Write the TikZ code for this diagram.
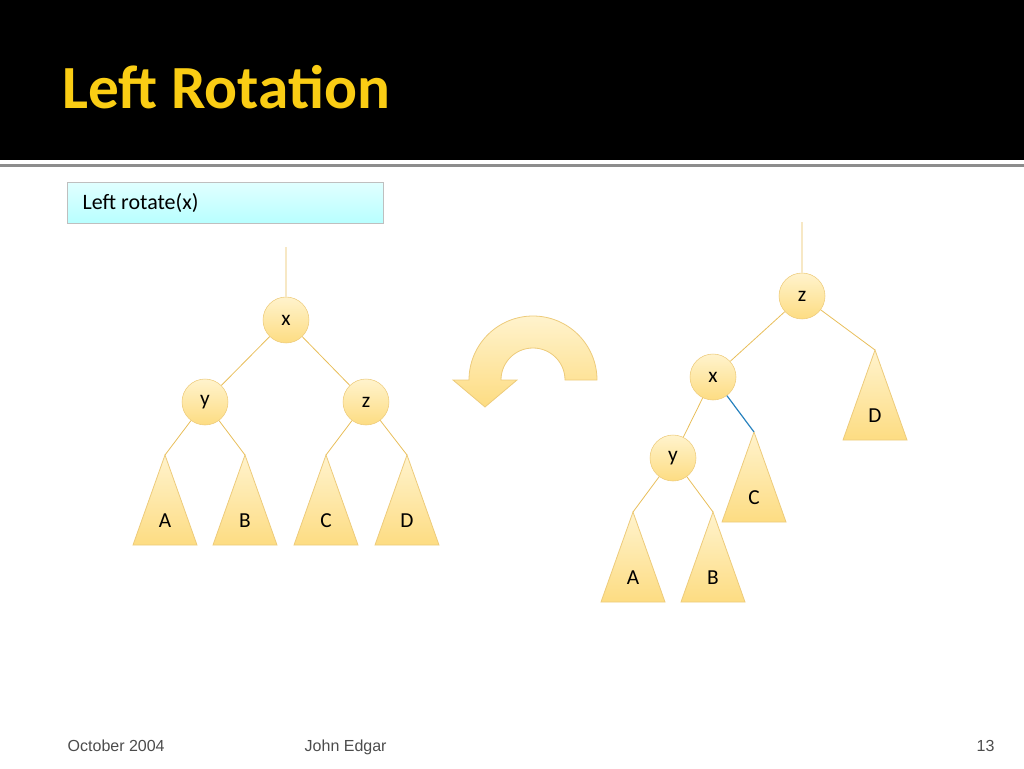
\documentclass[tikz,border=0pt]{standalone}
\usepackage{fontspec}
\setmainfont{Carlito}
\newfontfamily\footfont{Liberation Sans}
\definecolor{gold}{RGB}{232,190,90}
\definecolor{tfill}{RGB}{253,220,130}
\definecolor{tfilltop}{RGB}{255,243,205}
\definecolor{ttl}{RGB}{250,205,20}
\begin{document}
\begin{tikzpicture}[x=0.75pt,y=-0.75pt,
 nd/.style={circle,minimum size=34.5pt,inner sep=0pt,draw=gold!80,top color=tfilltop,bottom color=tfill,font=\fontsize{16}{16}\selectfont},
 edge/.style={draw=gold,line width=0.6pt},
 tri/.style={draw=gold!80,top color=tfilltop,bottom color=tfill,line width=0.6pt},
 lbl/.style={font=\fontsize{16}{16}\selectfont},
 foot/.style={font=\footfont\fontsize{12}{12}\selectfont,text=black!70,anchor=base west}]
\useasboundingbox (0,0) rectangle (1024,768);
\fill[black] (0,0) rectangle (1024,160);
\fill[black!45] (0,164) rectangle (1024,167);
\node[anchor=base west,inner sep=0pt,text=ttl,font=\bfseries\fontsize{46}{46}\selectfont] (title) at (62,108) {Left Rotation};
\node[draw=black!25,top color=cyan!12,bottom color=cyan!28,minimum width=237pt,minimum height=30.75pt,anchor=north west,inner sep=0pt] (box) at (67,182) {};
\node[anchor=west,font=\fontsize{16.5}{16}\selectfont] (boxt) at (78,203) {Left rotate(x)};
% left tree
\coordinate (lt) at (286,247);
\node[nd] (x1) at (286,320) {x};
\node[nd] (y1) at (205,402) {y};
\node[nd] (z1) at (366,402) {z};
\foreach \n/\ax/\t in {a1/165/A,b1/245/B,c1/326/C,d1/407/D}{
 \coordinate (\n) at (\ax,455);
 \path[tri] (\n) -- ++(-32,90) -- ++(64,0) -- cycle;
 \node[lbl] (\n l) at (\ax,521) {\t};}
\draw[edge] (lt) -- (x1) (x1) -- (y1) (x1) -- (z1) (y1) -- (a1) (y1) -- (b1) (z1) -- (c1) (z1) -- (d1);
% right tree
\coordinate (rt) at (802,222);
\node[nd] (z2) at (802,296) {z};
\node[nd] (x2) at (713,377) {x};
\node[nd] (y2) at (673,458) {y};
\foreach \n/\ax/\ay/\t in {d2/875/350/D,c2/754/432/C,a2/633/512/A,b2/713/512/B}{
 \coordinate (\n) at (\ax,\ay);
 \path[tri] (\n) -- ++(-32,90) -- ++(64,0) -- cycle;
 \node[lbl] (\n l) at (\ax,\ay+66) {\t};}
\draw[edge] (rt) -- (z2) (z2) -- (x2) (z2) -- (d2) (x2) -- (y2) (y2) -- (a2) (y2) -- (b2);
\draw[draw={rgb,255:red,40;green,130;blue,190},line width=0.9pt] (x2) -- (c2);
% rotation arrow
\path[draw=gold!80,top color=tfilltop,bottom color=tfill,line width=0.6pt]
 (597,380) arc[start angle=0,end angle=-180,radius=64] -- (453,380) -- (485,407) -- (517,380) -- (501,380)
 arc[start angle=-180,end angle=0,radius=32] -- cycle;
% footer
\node[foot] (f1) at (63,751) {October 2004};
\node[foot] (f2) at (300,751) {John Edgar};
\node[foot] (f3) at (972,751) {13};
\end{tikzpicture}
\end{document}
